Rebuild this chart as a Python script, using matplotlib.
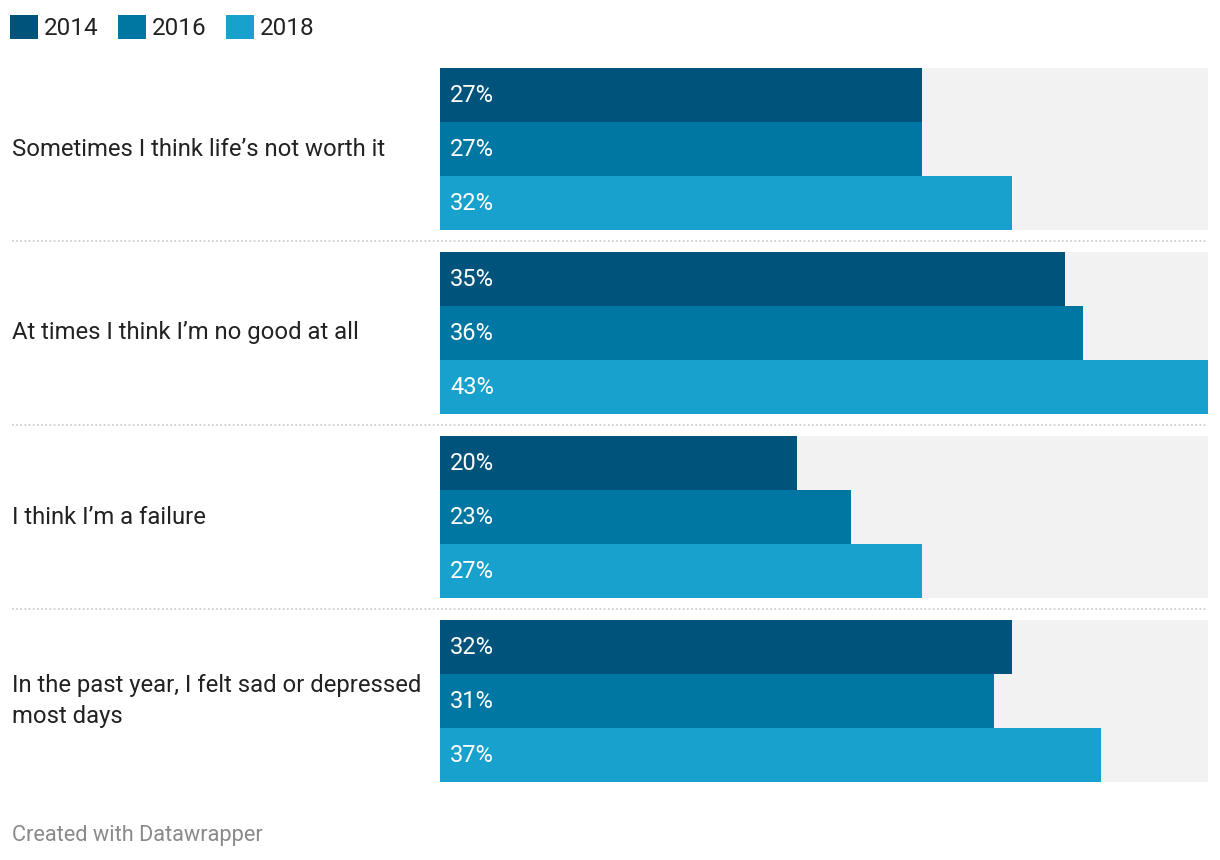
import matplotlib.pyplot as plt
import matplotlib.transforms as mtransforms
from matplotlib.patches import Patch

categories = [
    "Sometimes I think life\u2019s not worth it",
    "At times I think I\u2019m no good at all",
    "I think I\u2019m a failure",
    "In the past year, I felt sad or depressed\nmost days",
]
years = ["2014", "2016", "2018"]
values = {
    "2014": [27, 35, 20, 32],
    "2016": [27, 36, 23, 31],
    "2018": [32, 43, 27, 37],
}
colors = {"2014": "#00537a", "2016": "#0077a2", "2018": "#18a1cd"}
max_value = 43

plt.rcParams['font.family'] = ['Roboto', 'DejaVu Sans']

W, H = 1220, 860
fig = plt.figure(figsize=(W / 100, H / 100), dpi=100)
# bar area in pixels: x 440..1208, y 68..782
ax = fig.add_axes([440 / W, 1 - 782 / H, 768 / W, 714 / H])

gap = 22 / 54
n_groups = len(categories)
total = n_groups * 3 + (n_groups - 1) * gap
bar_tr = mtransforms.blended_transform_factory(ax.transAxes, ax.transData)
lab_tr = mtransforms.blended_transform_factory(fig.transFigure, ax.transData)

for gi, cat in enumerate(categories):
    top = gi * (3 + gap)
    for yi, yr in enumerate(years):
        yc = top + yi + 0.5
        ax.barh(yc, max_value, height=1.0, color="#f2f2f2", linewidth=0)
        v = values[yr][gi]
        ax.barh(yc, v, height=1.0, color=colors[yr], linewidth=0)
        ax.text(10 / 768, yc, f"{v}%", transform=bar_tr,
                ha="left", va="center", color="white", fontsize=17)
    # category label
    ax.text(12 / W, top + 1.5, cat, transform=lab_tr,
            ha="left", va="center", color="#222222", fontsize=17.2, linespacing=1.45)
    # dotted separator
    if gi < n_groups - 1:
        ysep = top + 3 + gap / 2
        ax.plot([(12 - 440) / 768, 1.0], [ysep, ysep], transform=bar_tr,
                color="#c8c8c8", linestyle=(0, (1, 1.5)), linewidth=1.2, clip_on=False)

ax.set_xlim(0, max_value)
ax.set_ylim(total, 0)
ax.axis("off")

handles = [Patch(facecolor=colors[y], edgecolor="none", label=y) for y in years]
fig.legend(handles=handles, loc="upper left", bbox_to_anchor=(10 / W, 1 - 15 / H), ncol=3,
           frameon=False, fontsize=17.5, handlelength=1.15, handleheight=1.15,
           handletextpad=0.25, columnspacing=0.8, borderpad=0, borderaxespad=0,
           labelcolor="#222222")

fig.text(12 / W, 1 - 835 / H, "Created with Datawrapper", ha="left", va="center",
         color="#8a8a8a", fontsize=15.7)

fig.savefig("out.png", dpi=100)
